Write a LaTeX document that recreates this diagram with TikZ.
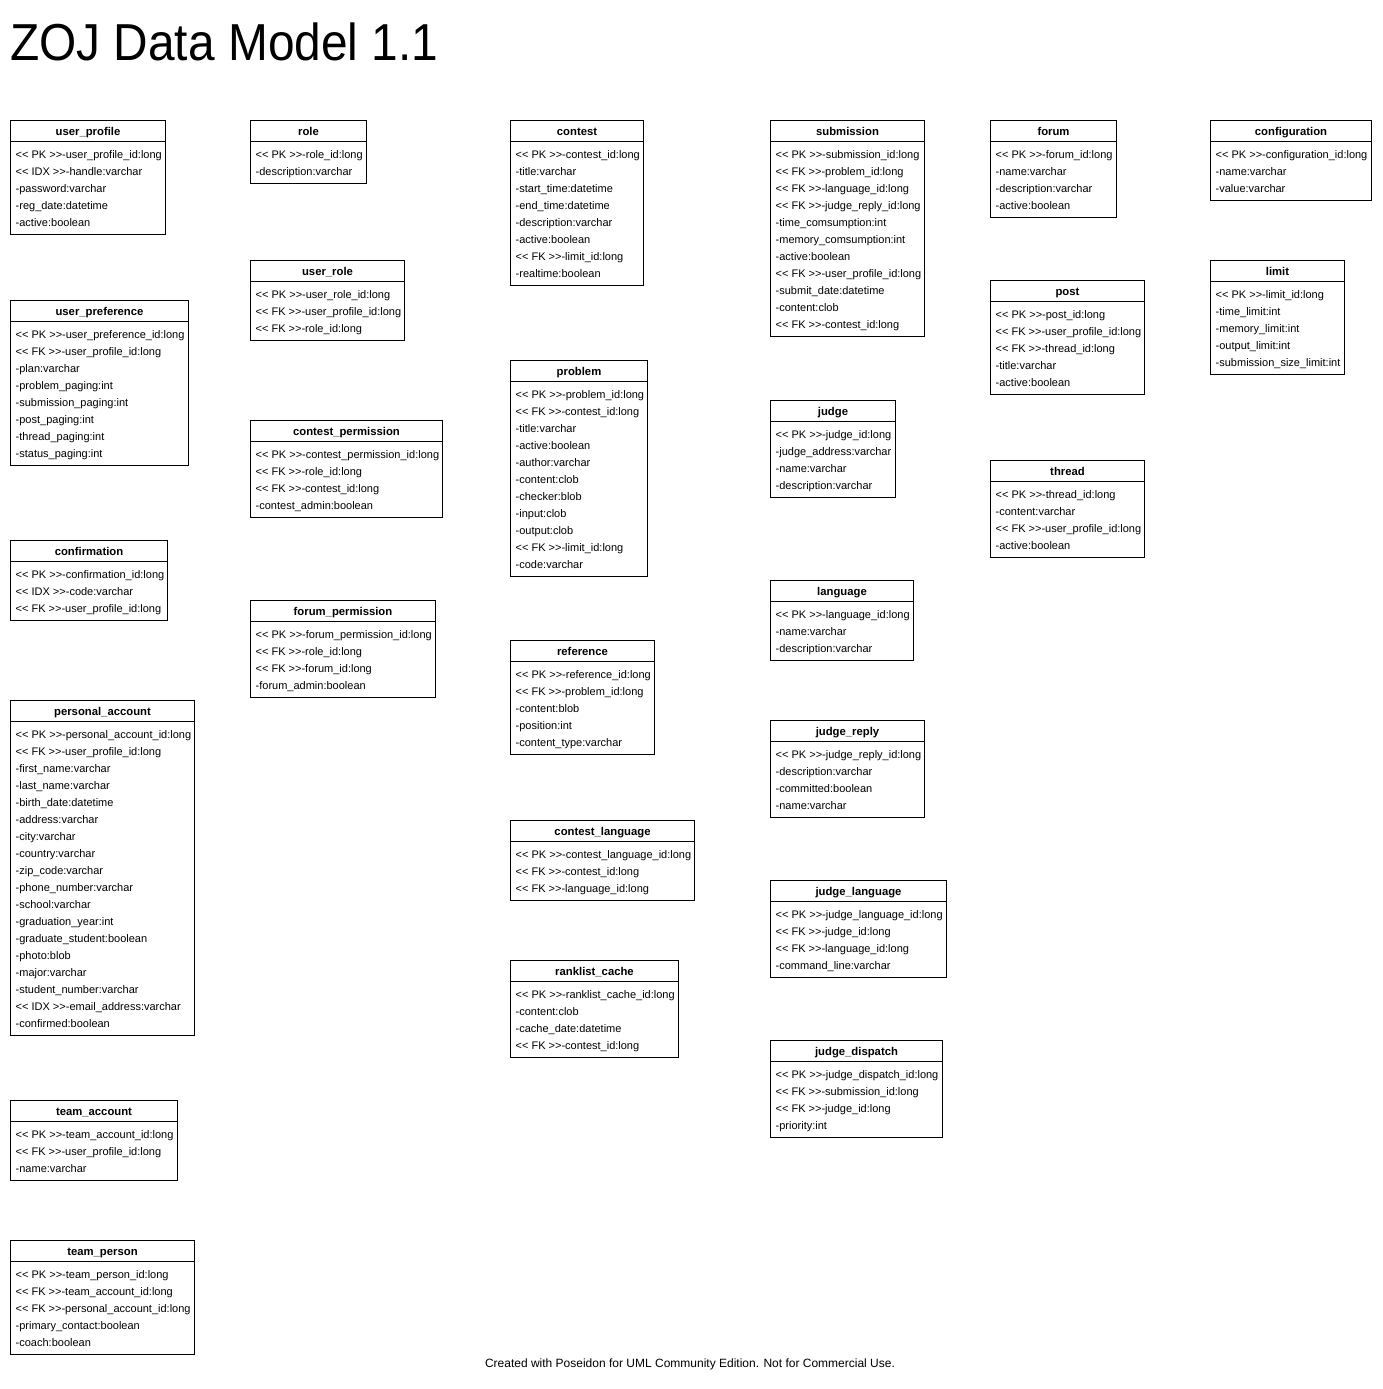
\documentclass[tikz,border=0pt]{standalone}
\usepackage{fontspec}
\usepackage{graphicx}
\newfontfamily\umlfont{Liberation Sans}
\usetikzlibrary{calc}
\newcommand\PK{<< PK >>}
\newcommand\FK{<< FK >>}
\newcommand\IDX{<< IDX >>}
\tikzset{
  classbox/.style={draw=black, line width=1pt, fill=white, inner sep=0pt, outer sep=0pt, rectangle},
  boxline/.style={draw=black, line width=1pt},
  titletext/.style={inner sep=0pt, font=\umlfont\fontsize{11.3}{13}\selectfont\bfseries},
  attrtext/.style={inner sep=0pt, font=\umlfont\fontsize{11}{13}\selectfont},
  footertext/.style={inner sep=0pt, font=\umlfont\fontsize{12}{14}\selectfont},
}
% name, left, right, top, n, title, attributes
\newcommand\umlclass[7]{%
  \node[classbox, anchor=north west, minimum width={(#3-#2)*1pt}, minimum height={(29+17*#5)*1pt}] (#1) at ({#2pt+0.5pt},{-#4pt-0.5pt}) {};
  \node[titletext, anchor=base] (#1-t) at ($(#1.north)+(0,-15pt)$) {#6};
  \draw[boxline] ($(#1.north west)+(0,-21pt)$) coordinate (#1-sl) -- ($(#1.north east)+(0,-21pt)$) coordinate (#1-sr);
  \foreach \a [count=\i, evaluate=\i as \yy using -38-17*(\i-1)] in {#7}
    \node[attrtext, anchor=base west] (#1-\i) at ($(#1.north west)+(5pt,\yy pt)$) {\a};
}
\begin{document}
\begin{tikzpicture}[x=1pt,y=1pt]
\useasboundingbox[fill=white] (0,0) rectangle (1382,-1389);

\node[inner sep=0pt, anchor=base west, font=\umlfont\fontsize{52}{60}\selectfont] (title) at (10,-60) {\scalebox{0.92}[1]{ZOJ Data Model 1.1}};

% column 1
\umlclass{uprofile}{10}{165}{120}{5}{user\_profile}{\PK-user\_profile\_id:long, \IDX-handle:varchar, -password:varchar, -reg\_date:datetime, -active:boolean}
\umlclass{upref}{10}{188}{300}{8}{user\_preference}{\PK-user\_preference\_id:long, \FK-user\_profile\_id:long, -plan:varchar, -problem\_paging:int, -submission\_paging:int, -post\_paging:int, -thread\_paging:int, -status\_paging:int}
\umlclass{confirm}{10}{167}{540}{3}{confirmation}{\PK-confirmation\_id:long, \IDX-code:varchar, \FK-user\_profile\_id:long}
\umlclass{paccount}{10}{194}{700}{18}{personal\_account}{\PK-personal\_account\_id:long, \FK-user\_profile\_id:long, -first\_name:varchar, -last\_name:varchar, -birth\_date:datetime, -address:varchar, -city:varchar, -country:varchar, -zip\_code:varchar, -phone\_number:varchar, -school:varchar, -graduation\_year:int, -graduate\_student:boolean, -photo:blob, -major:varchar, -student\_number:varchar, \IDX-email\_address:varchar, -confirmed:boolean}
\umlclass{taccount}{10}{177}{1100}{3}{team\_account}{\PK-team\_account\_id:long, \FK-user\_profile\_id:long, -name:varchar}
\umlclass{tperson}{10}{194}{1240}{5}{team\_person}{\PK-team\_person\_id:long, \FK-team\_account\_id:long, \FK-personal\_account\_id:long, -primary\_contact:boolean, -coach:boolean}

% column 2
\umlclass{role}{250}{366}{120}{2}{role}{\PK-role\_id:long, -description:varchar}
\umlclass{urole}{250}{404}{260}{3}{user\_role}{\PK-user\_role\_id:long, \FK-user\_profile\_id:long, \FK-role\_id:long}
\umlclass{cperm}{250}{442}{420}{4}{contest\_permission}{\PK-contest\_permission\_id:long, \FK-role\_id:long, \FK-contest\_id:long, -contest\_admin:boolean}
\umlclass{fperm}{250}{435}{600}{4}{forum\_permission}{\PK-forum\_permission\_id:long, \FK-role\_id:long, \FK-forum\_id:long, -forum\_admin:boolean}

% column 3
\umlclass{contest}{510}{643}{120}{8}{contest}{\PK-contest\_id:long, -title:varchar, -start\_time:datetime, -end\_time:datetime, -description:varchar, -active:boolean, \FK-limit\_id:long, -realtime:boolean}
\umlclass{problem}{510}{647}{360}{11}{problem}{\PK-problem\_id:long, \FK-contest\_id:long, -title:varchar, -active:boolean, -author:varchar, -content:clob, -checker:blob, -input:clob, -output:clob, \FK-limit\_id:long, -code:varchar}
\umlclass{reference}{510}{654}{640}{5}{reference}{\PK-reference\_id:long, \FK-problem\_id:long, -content:blob, -position:int, -content\_type:varchar}
\umlclass{clang}{510}{694}{820}{3}{contest\_language}{\PK-contest\_language\_id:long, \FK-contest\_id:long, \FK-language\_id:long}
\umlclass{rcache}{510}{678}{960}{4}{ranklist\_cache}{\PK-ranklist\_cache\_id:long, -content:clob, -cache\_date:datetime, \FK-contest\_id:long}

% column 4
\umlclass{submission}{770}{924}{120}{11}{submission}{\PK-submission\_id:long, \FK-problem\_id:long, \FK-language\_id:long, \FK-judge\_reply\_id:long, -time\_comsumption:int, -memory\_comsumption:int, -active:boolean, \FK-user\_profile\_id:long, -submit\_date:datetime, -content:clob, \FK-contest\_id:long}
\umlclass{judge}{770}{895}{400}{4}{judge}{\PK-judge\_id:long, -judge\_address:varchar, -name:varchar, -description:varchar}
\umlclass{language}{770}{913}{580}{3}{language}{\PK-language\_id:long, -name:varchar, -description:varchar}
\umlclass{jreply}{770}{924}{720}{4}{judge\_reply}{\PK-judge\_reply\_id:long, -description:varchar, -committed:boolean, -name:varchar}
\umlclass{jlang}{770}{946}{880}{4}{judge\_language}{\PK-judge\_language\_id:long, \FK-judge\_id:long, \FK-language\_id:long, -command\_line:varchar}
\umlclass{jdispatch}{770}{942}{1040}{4}{judge\_dispatch}{\PK-judge\_dispatch\_id:long, \FK-submission\_id:long, \FK-judge\_id:long, -priority:int}

% column 5
\umlclass{forum}{990}{1116}{120}{4}{forum}{\PK-forum\_id:long, -name:varchar, -description:varchar, -active:boolean}
\umlclass{post}{990}{1144}{280}{5}{post}{\PK-post\_id:long, \FK-user\_profile\_id:long, \FK-thread\_id:long, -title:varchar, -active:boolean}
\umlclass{thread}{990}{1144}{460}{4}{thread}{\PK-thread\_id:long, -content:varchar, \FK-user\_profile\_id:long, -active:boolean}

% column 6
\umlclass{config}{1210}{1371}{120}{3}{configuration}{\PK-configuration\_id:long, -name:varchar, -value:varchar}
\umlclass{limit}{1210}{1344}{260}{5}{limit}{\PK-limit\_id:long, -time\_limit:int, -memory\_limit:int, -output\_limit:int, -submission\_size\_limit:int}

\node[footertext, anchor=base] (footer) at (690,-1367) {Created with Poseidon for UML Community Edition. Not for Commercial Use.};
\end{tikzpicture}
\end{document}
